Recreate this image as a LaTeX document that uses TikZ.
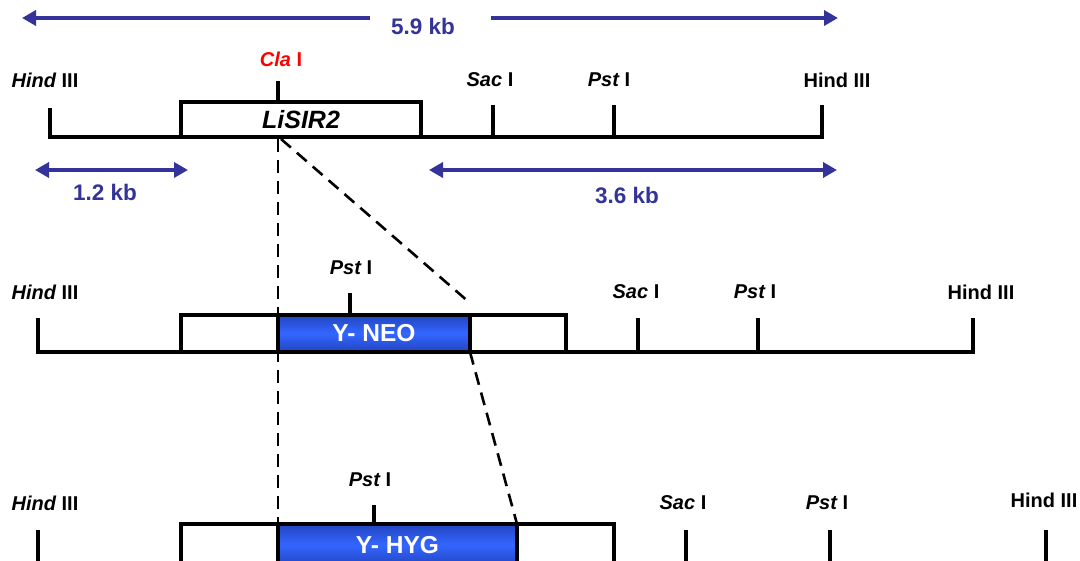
\documentclass[tikz,border=0pt]{standalone}
\usepackage{fontspec}
\setmainfont{Liberation Sans}
\usetikzlibrary{arrows.meta}
\definecolor{kbblue}{HTML}{333399}
\definecolor{geneblue}{HTML}{3366FF}
\definecolor{genedark}{HTML}{2244C0}
\definecolor{clared}{HTML}{FF0000}
\begin{document}
\begin{tikzpicture}[x=1pt,y=-1pt,
  lbl/.style={font=\bfseries\fontsize{20}{24}\selectfont, inner sep=0pt},
  kb/.style={font=\bfseries\fontsize{22.5}{27}\selectfont, text=kbblue, inner sep=0pt},
  dna/.style={line width=3.4pt},
  tick/.style={line width=3.4pt},
  boxw/.style={draw, line width=3.4pt, fill=white, inner sep=0pt},
  gene/.style={draw, line width=3.4pt, inner sep=0pt, top color=genedark, bottom color=genedark, middle color=geneblue,
     text=white, font=\bfseries\fontsize{24.5}{29}\selectfont},
  kbarrow/.style={draw=kbblue, line width=3.6pt, -{Triangle[length=14pt,width=15pt]}},
  kbdouble/.style={draw=kbblue, line width=3.6pt, {Triangle[length=14pt,width=15pt]}-{Triangle[length=14pt,width=15pt]}},
  guide/.style={line width=2.6pt, dash pattern=on 13pt off 8pt}]
\useasboundingbox (0,0) rectangle (1080,561);
\clip (0,0) rectangle (1080,561);

% ---------------- Row 1 ----------------
\node[kb] (t59) at (423,26) {5.9 kb};
\coordinate (a59l) at (22,18);
\coordinate (a59lg) at (370,18);
\coordinate (a59rg) at (491,18);
\coordinate (a59r) at (838,18);
\draw[kbarrow] (a59lg) -- (a59l);
\draw[kbarrow] (a59rg) -- (a59r);

\draw[dna] (50,137) -- (822,137);
\node[boxw, minimum width=240pt, minimum height=35pt, font=\bfseries\itshape\fontsize{25}{30}\selectfont] (lisir) at (301,119.5) {LiSIR2};

\node[lbl] (h1l) at (45,80) {{\itshape Hind} III};
\draw[tick] (50,108) -- (50,138.7);
\node[lbl, text=clared] (cla) at (281,59) {{\itshape Cla} I};
\draw[tick] (278,81) -- (lisir.north -| 278,0);
\node[lbl] (sac1) at (490,80) {{\itshape Sac} I};
\draw[tick] (493,105) -- (493,137);
\node[lbl] (pst1) at (609,80) {{\itshape Pst} I};
\draw[tick] (614,105) -- (614,137);
\node[lbl] (h1r) at (837,80) {Hind III};
\draw[tick] (822,105) -- (822,138.7);

\node[kb] (t12) at (105,192) {1.2 kb};
\coordinate (a12l) at (35,170);
\coordinate (a12r) at (188,170);
\draw[kbdouble] (a12l) -- (a12r);
\node[kb] (t36) at (627,195) {3.6 kb};
\coordinate (a36l) at (429,170);
\coordinate (a36r) at (837,170);
\draw[kbdouble] (a36l) -- (a36r);

% ---------------- dashed guides (behind the lower boxes) ----------------
\coordinate (cut) at (278,139);
\coordinate (dtop) at (470,303);
\coordinate (neoSE) at (470,352);
\coordinate (hygNE) at (517,524);
\coordinate (hygNW) at (278,524);
\draw[guide] (cut) -- (hygNW);
\draw[guide] ([xshift=3pt]cut) -- (dtop);
\draw[guide] (neoSE) -- (hygNE);

% ---------------- Row 2 ----------------
\draw[dna] (38,352) -- (973,352);
\node[boxw, minimum width=385pt, minimum height=37pt] (out2) at (373.5,333.5) {};
\node[gene, minimum width=192pt, minimum height=37pt] (neo) at (374,333.5) {Y- NEO};

\node[lbl] (h2l) at (45,292) {{\itshape Hind} III};
\draw[tick] (38,318) -- (38,353.7);
\node[lbl] (pst2a) at (351,268) {{\itshape Pst} I};
\draw[tick] (350,293) -- (350,315);
\node[lbl] (sac2) at (636,292) {{\itshape Sac} I};
\draw[tick] (638,318) -- (638,352);
\node[lbl] (pst2b) at (755,292) {{\itshape Pst} I};
\draw[tick] (758,318) -- (758,352);
\node[lbl] (h2r) at (981,292) {Hind III};
\draw[tick] (973,318) -- (973,353.7);

% ---------------- Row 3 ----------------
\draw[dna] (38,566) -- (1046,566);
\node[boxw, minimum width=433pt, minimum height=42pt] (out3) at (397.5,545) {};
\node[gene, minimum width=239pt, minimum height=42pt] (hyg) at (397.5,545) {Y- HYG};

\node[lbl] (h3l) at (45,503) {{\itshape Hind} III};
\draw[tick] (38,530) -- (38,566);
\node[lbl] (pst3a) at (370,480) {{\itshape Pst} I};
\draw[tick] (374,505) -- (374,524);
\node[lbl] (sac3) at (683,503) {{\itshape Sac} I};
\draw[tick] (686,530) -- (686,566);
\node[lbl] (pst3b) at (827,503) {{\itshape Pst} I};
\draw[tick] (830,530) -- (830,566);
\node[lbl] (h3r) at (1044,500) {Hind III};
\draw[tick] (1046,530) -- (1046,566);
\end{tikzpicture}
\end{document}
